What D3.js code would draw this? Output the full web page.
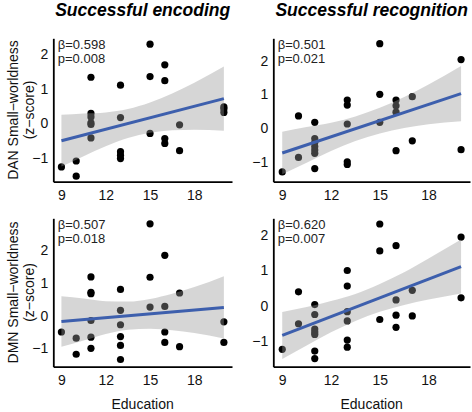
<!DOCTYPE html>
<html><head><meta charset="utf-8">
<script src="https://cdn.jsdelivr.net/npm/d3@7"></script>
<style>body{margin:0;background:#fff}svg{display:block;font-family:"Liberation Sans",Arial,sans-serif}</style>
</head><body><svg id="c" width="472" height="412"></svg>
<script>
const colTitles = ["Successful encoding", "Successful recognition"];
const rowTitles = ["DAN Small\u2212worldness", "DMN Small\u2212worldness"];
const yUnit = "(z\u2212score)";
const xTitle = "Education";
const xTicks = [9, 12, 15, 18];
const yTicks = [-1, 0, 1, 2];
const betas = ["\u03B2=0.598", "\u03B2=0.501", "\u03B2=0.507", "\u03B2=0.620"];
const pvals = ["p=0.008", "p=0.021", "p=0.018", "p=0.007"];

// Panel points (education, z-score)
const encDanX = [9,10,10,11,11,11,11,11,11,13,13,13,13,13,15,15,15,16,16,16,16,17,17,20,20,20];
const encDanY = [-1.26,-1.09,-1.53,1.34,0.29,0.19,0.02,-0.03,-0.42,1.11,0.17,-0.82,-0.92,-1.02,2.30,1.36,-0.29,1.70,1.24,-0.44,-0.58,-0.04,-0.79,0.48,0.42,0.32];
const recDanX = [9,10,10,11,11,11,11,11,11,11,13,13,13,13,13,15,15,15,16,16,16,16,17,17,20,20];
const recDanY = [-1.30,0.36,-0.87,0.17,-0.31,-0.43,-0.55,-0.65,-0.75,-1.20,0.83,0.68,0.12,-1.00,-1.08,2.50,1.00,0.17,0.83,0.66,0.47,-0.67,0.93,-0.38,2.03,-0.64];
const encDmnX = [9,10,10,11,11,11,11,11,11,13,13,13,13,13,13,15,15,15,16,16,16,16,17,17,20,20];
const encDmnY = [-0.50,-0.69,-1.18,1.18,0.71,0.67,-0.15,-0.66,-1.00,0.80,0.16,-0.28,-0.64,-0.91,-1.34,2.80,1.17,0.26,1.84,0.28,-0.50,-0.82,0.69,-0.95,-0.19,-0.82];
const recDmnX = [9,10,10,11,11,11,11,11,11,11,13,13,13,13,13,13,15,15,15,16,16,16,16,17,17,20,20];
const recDmnY = [-1.23,0.39,-0.51,0.03,-0.25,-0.66,-0.74,-0.81,-1.28,-1.49,0.99,0.55,-0.17,-0.43,-0.97,-1.17,2.30,1.54,-0.39,1.69,0.16,-0.27,-0.61,0.43,-0.29,1.93,0.22];

// Fitted line endpoints at x = 9 and x = 20
const fitX = [9, 20];
const encDanFit = [-0.50, 0.72];
const recDanFit = [-0.74, 1.02];
const encDmnFit = [-0.18, 0.25];
const recDmnFit = [-0.84, 1.10];

// Confidence band edges
const bandX = [9, 10.5, 12, 13.5, 15, 16.5, 18, 20];
const encDanLo = [-1.25,-0.95,-0.66,-0.42,-0.27,-0.20,-0.18,-0.21];
const encDanHi = [0.25,0.29,0.32,0.42,0.61,0.87,1.18,1.65];
const recDanLo = [-1.37,-1.03,-0.68,-0.385,-0.16,0.0,0.11,0.20];
const recDanHi = [-0.11,0.03,0.16,0.345,0.60,0.92,1.29,1.84];
const encDmnLo = [-0.95,-0.76,-0.56,-0.43,-0.40,-0.45,-0.53,-0.70];
const encDmnHi = [0.59,0.52,0.44,0.43,0.51,0.67,0.87,1.20];
const recDmnLo = [-1.50,-1.12,-0.75,-0.43,-0.17,0.02,0.17,0.34];
const recDmnHi = [-0.18,-0.04,0.13,0.33,0.61,0.94,1.33,1.86];

const panels = [
  {xs: encDanX, ys: encDanY, fit: encDanFit, lo: encDanLo, hi: encDanHi, col: 0, row: 0, yDom: [-1.69, 2.47]},
  {xs: recDanX, ys: recDanY, fit: recDanFit, lo: recDanLo, hi: recDanHi, col: 1, row: 0, yDom: [-1.59, 2.66]},
  {xs: encDmnX, ys: encDmnY, fit: encDmnFit, lo: encDmnLo, hi: encDmnHi, col: 0, row: 1, yDom: [-1.56, 2.97]},
  {xs: recDmnX, ys: recDmnY, fit: recDmnFit, lo: recDmnLo, hi: recDmnHi, col: 1, row: 1, yDom: [-1.72, 2.46]}
];

const colRange = [[53.3, 232], [273.3, 470]];
const rowRange = [[181.7, 38.3], [366.7, 218.3]];
const xDom = [8.45, 20.55];
const fmt = d3.format("d");

const svg = d3.select("#c");

panels.forEach((p, i) => {
  const x = d3.scaleLinear().domain(xDom).range(colRange[p.col]);
  const y = d3.scaleLinear().domain(p.yDom).range(rowRange[p.row]);
  const g = svg.append("g");

  // points
  g.selectAll("circle").data(p.xs.map((v, k) => [v, p.ys[k]])).join("circle")
    .attr("cx", d => x(d[0])).attr("cy", d => y(d[1])).attr("r", 3.6)
    .attr("fill", "#000");

  // band
  const bd = bandX.map((v, k) => [v, p.lo[k], p.hi[k]]);
  g.append("path").datum(bd)
    .attr("d", d3.area().x(d => x(d[0])).y0(d => y(d[1])).y1(d => y(d[2])).curve(d3.curveMonotoneX))
    .attr("fill", "#999999").attr("fill-opacity", 0.4);

  // fit line
  g.append("path").datum(fitX.map((v, k) => [v, p.fit[k]]))
    .attr("d", d3.line().x(d => x(d[0])).y(d => y(d[1])))
    .attr("stroke", "#3d5fad").attr("stroke-width", 3).attr("fill", "none");

  // axes
  const ax = g.append("g").attr("transform", `translate(0,${rowRange[p.row][0]})`)
    .call(d3.axisBottom(x).tickValues(xTicks).tickFormat(fmt).tickSize(0).tickSizeOuter(0).tickPadding(6));
  const ay = g.append("g").attr("transform", `translate(${colRange[p.col][0]},0)`)
    .call(d3.axisLeft(y).tickValues(yTicks).tickFormat(fmt).tickSize(0).tickSizeOuter(0).tickPadding(5));
  [ax, ay].forEach(a => {
    a.select(".domain").attr("stroke", "#000").attr("stroke-width", 1.8);
    a.selectAll("text").attr("font-size", 14).attr("fill", "#111")
      .attr("font-family", "'Liberation Sans', Arial, sans-serif");
  });
  ax.selectAll("text").attr("dy", "0.85em");

  // stats text
  const tx = colRange[p.col][0] + 4.5;
  const ty = rowRange[p.row][1] + 11;
  g.append("text").attr("x", tx).attr("y", ty).text(betas[i])
    .attr("font-size", 13).attr("fill", "#222");
  g.append("text").attr("x", tx).attr("y", ty + 13.8).text(pvals[i])
    .attr("font-size", 13).attr("fill", "#222");
});

// column titles
colTitles.forEach((t, c) => {
  svg.append("text").attr("x", (colRange[c][0] + colRange[c][1]) / 2).attr("y", 15.5)
    .attr("text-anchor", "middle").attr("font-size", 17.5).attr("font-weight", "bold")
    .attr("font-style", "italic").attr("fill", "#000").text(t);
  svg.append("text").attr("x", (colRange[c][0] + colRange[c][1]) / 2).attr("y", 409)
    .attr("text-anchor", "middle").attr("font-size", 14).attr("fill", "#111").text(xTitle);
});

// row titles
rowTitles.forEach((t, r) => {
  const cy = (rowRange[r][0] + rowRange[r][1]) / 2;
  const lab = svg.append("text").attr("transform", `translate(18,${cy}) rotate(-90)`)
    .attr("text-anchor", "middle").attr("font-size", 14).attr("fill", "#111");
  lab.append("tspan").attr("x", 0).attr("y", 0).text(t);
  lab.append("tspan").attr("x", 0).attr("y", 15.5).text(yUnit);
});
</script></body></html>
